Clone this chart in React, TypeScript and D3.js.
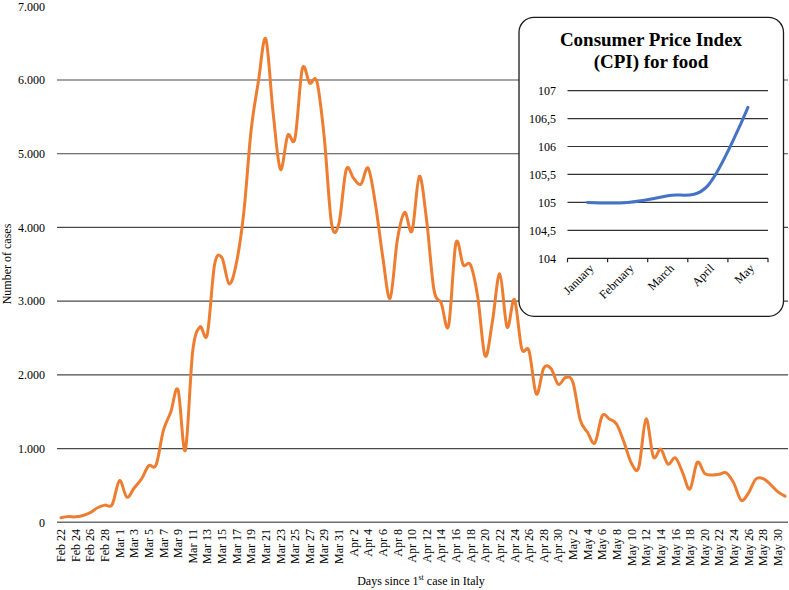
import React from "react";
import * as d3 from "d3";

// Category spec: month name, first day, last day (Feb 22 – May 31, 2020)
const monthSpans: [string, number, number][] = [
  ["Feb", 22, 29],
  ["Mar", 1, 31],
  ["Apr", 1, 30],
  ["May", 1, 31],
];
const days: string[] = monthSpans.flatMap(([m, a, b]) =>
  d3.range(a, b + 1).map((d) => `${m} ${d}`)
);

// Daily new cases in Italy
const cases: number[] = [
  62, 77, 74, 93, 131, 197, 233, 240,
  566, 342, 466, 587, 769, 778, 1247, 1492, 1797, 977, 2313, 2651, 2547, 3497, 3590, 3233, 3526, 4207,
  5322, 5986, 6557, 5560, 4789, 5249, 5210, 6153, 5959, 5974, 5217, 4050, 4053,
  4782, 4668, 4585, 4805, 4316, 3599, 3039, 3836, 4204, 3951, 4694, 4092, 3153, 2972, 2667, 3786,
  3493, 3491, 3047, 2256, 2729, 3370, 2646, 3021, 2357, 2324, 1739, 2091, 2086, 1872,
  1965, 1900, 1389, 1221, 1075, 1444, 1401, 1327, 1083, 802, 744, 1402, 888, 992, 789, 875,
  675, 451, 813, 665, 642, 652, 669, 531, 300, 397, 584, 593, 516, 416, 355,
];

const yTicks: number[] = [0, 1000, 2000, 3000, 4000, 5000, 6000, 7000];
const yTickLabels: string[] = ["0", "1.000", "2.000", "3.000", "4.000", "5.000", "6.000", "7.000"];

// Inset: CPI for food
const cpiMonths: string[] = ["January", "February", "March", "April", "May"];
const cpiValues: number[] = [105.0, 105.0, 105.12, 105.3, 106.7];
const cpiTicks: number[] = [104, 104.5, 105, 105.5, 106, 106.5, 107];
const cpiTickLabels: string[] = ["104", "104,5", "105", "105,5", "106", "106,5", "107"];

const FONT = "'Liberation Serif', 'Times New Roman', serif";

export default function App() {
  const W = 789, H = 590;
  const x = d3.scaleBand<string>().domain(days).range([57.35, 788.65]);
  const y = d3.scaleLinear().domain([0, 7000]).range([522.3, 6.3]);
  const line = d3
    .line<number>()
    .x((_, i) => (x(days[i]) as number) + x.bandwidth() / 2)
    .y((d) => y(d))
    .curve(d3.curveCatmullRom.alpha(0));

  // inset
  const ix = d3.scaleBand<string>().domain(cpiMonths).range([567.5, 768]);
  const iy = d3.scaleLinear().domain([104, 107]).range([258.3, 90.6]);
  const iline = d3
    .line<number>()
    .x((_, i) => (ix(cpiMonths[i]) as number) + ix.bandwidth() / 2)
    .y((d) => iy(d))
    .curve(d3.curveCatmullRom.alpha(0));

  return (
    <svg width={W} height={H} style={{ position: "absolute", left: 0, top: 0, background: "#fff" }} fontFamily={FONT}>
      {/* gridlines */}
      {yTicks.filter((t) => t < 7000).map((t) => (
        <line key={t} x1={57} x2={788} y1={y(t)} y2={y(t)} stroke={t === 0 ? "#6e6e6e" : "#4a4a4a"} strokeWidth={t === 0 ? 1.6 : 1.2} />
      ))}
      {yTicks.map((t, i) => (
        <text key={t} x={45} y={y(t)} dy="0.35em" textAnchor="end" fontSize={12} fill="#000">
          {yTickLabels[i]}
        </text>
      ))}
      {/* x labels */}
      {days.map((d, i) =>
        i % 2 === 0 ? (
          <text
            key={d}
            transform={`translate(${(x(d) as number) + x.bandwidth() / 2},529) rotate(-90)`}
            textAnchor="end"
            dy="0.35em"
            fontSize={12}
            fill="#000"
          >
            {d}
          </text>
        ) : null
      )}
      <path d={line(cases) || ""} fill="none" stroke="#ED7D31" strokeWidth={3} strokeLinejoin="round" strokeLinecap="round" />
      {/* axis titles */}
      <text transform="translate(11,264) rotate(-90)" textAnchor="middle" fontSize={12}>
        Number of cases
      </text>
      <text x={421} y={585} textAnchor="middle" fontSize={12}>
        Days since 1<tspan fontSize={8} dy={-5}>st</tspan>
        <tspan dy={5}> case in Italy</tspan>
      </text>

      {/* inset */}
      <rect x={519} y={17.3} width={264.5} height={299} rx={15} ry={15} fill="#fff" stroke="#1a1a1a" strokeWidth={1.3} />
      <text x={651} y={46} textAnchor="middle" fontSize={19} fontWeight="bold">
        Consumer Price Index
      </text>
      <text x={651} y={68} textAnchor="middle" fontSize={19} fontWeight="bold">
        (CPI) for food
      </text>
      {cpiTicks.map((t, i) => (
        <g key={t}>
          <line x1={567.5} x2={768} y1={iy(t)} y2={iy(t)} stroke={t === 104 ? "#222" : "#333"} strokeWidth={1.2} />
          <text x={556} y={iy(t)} dy="0.35em" textAnchor="end" fontSize={12}>
            {cpiTickLabels[i]}
          </text>
        </g>
      ))}
      {[...cpiMonths.map((m) => ix(m) as number), 768].map((tx, i) => (
        <line key={i} x1={tx} x2={tx} y1={iy(104)} y2={iy(104) + 4} stroke="#222" strokeWidth={1.2} />
      ))}
      {cpiMonths.map((m) => (
        <text
          key={m}
          transform={`translate(${(ix(m) as number) + ix.bandwidth() / 2 + 4},266) rotate(-45)`}
          textAnchor="end"
          dy="0.35em"
          fontSize={12}
        >
          {m}
        </text>
      ))}
      <path d={iline(cpiValues) || ""} fill="none" stroke="#4472C4" strokeWidth={3} strokeLinecap="round" />
    </svg>
  );
}
